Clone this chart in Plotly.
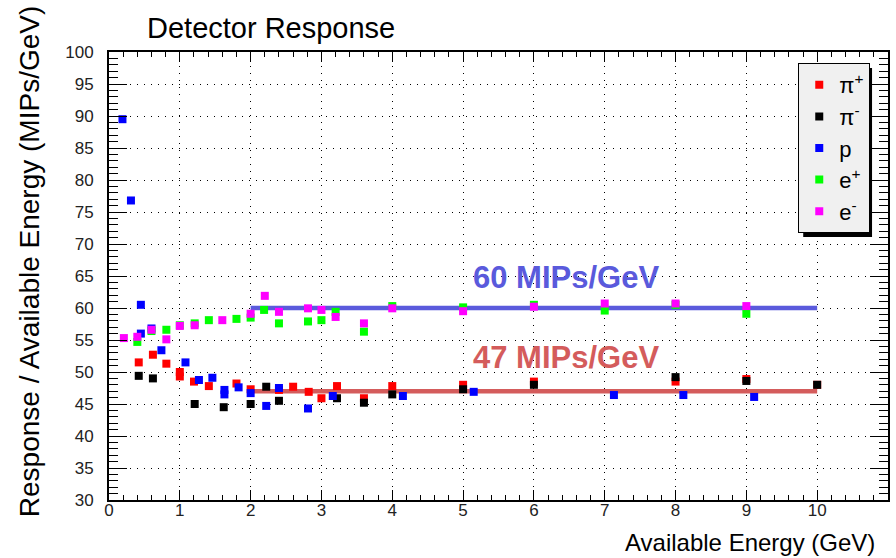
import plotly.graph_objects as go

# ---- data (Available Energy in GeV, Response / Available Energy in MIPs/GeV)
pip_x = [0.42, 0.62, 0.81, 1.0, 1.0, 1.2, 1.41, 1.8, 2.0, 2.4, 2.6, 2.82, 3.0, 3.22, 3.6, 4.0, 5.0, 6.0, 8.0, 9.0, 10.0]
pip_y = [51.5, 52.7, 51.3, 50.0, 49.3, 48.5, 47.8, 48.2, 47.3, 47.2, 47.7, 46.9, 45.9, 47.8, 45.9, 47.8, 48.0, 48.5, 48.5, 48.9, 48.0]

pim_x = [0.42, 0.62, 1.21, 1.62, 2.0, 2.22, 2.4, 3.22, 3.6, 4.0, 5.0, 6.0, 8.0, 9.0, 10.0]
pim_y = [49.4, 49.0, 45.0, 44.5, 45.0, 47.7, 45.5, 45.9, 45.2, 46.5, 47.3, 48.0, 49.2, 48.6, 48.0]

p_x = [0.19, 0.31, 0.45, 0.45, 0.6, 0.74, 1.08, 1.27, 1.46, 1.63, 1.63, 1.83, 2.0, 2.22, 2.4, 2.81, 3.16, 4.15, 5.15, 7.13, 8.11, 9.11]
p_y = [89.5, 76.8, 60.5, 56.0, 56.8, 53.4, 51.5, 48.75, 49.1, 47.2, 46.5, 47.6, 46.7, 44.7, 47.5, 44.3, 46.25, 46.25, 46.9, 46.4, 46.4, 46.1]

ep_x = [0.4, 0.6, 0.81, 1.0, 1.21, 1.41, 1.8, 2.0, 2.19, 2.4, 2.81, 3.0, 3.2, 3.6, 4.0, 5.0, 6.0, 7.0, 8.0, 9.0]
ep_y = [54.7, 56.4, 56.6, 57.3, 57.6, 58.1, 58.3, 58.5, 59.7, 57.6, 57.9, 58.1, 59.4, 56.3, 60.3, 60.1, 60.5, 59.6, 60.5, 59.1]

em_x = [0.21, 0.4, 0.6, 0.81, 1.0, 1.21, 1.6, 2.0, 2.2, 2.4, 2.81, 3.0, 3.2, 3.6, 4.0, 5.0, 6.0, 7.0, 8.0, 9.0]
em_y = [55.3, 55.5, 56.6, 55.1, 57.2, 57.3, 58.1, 59.1, 61.9, 59.4, 59.95, 59.7, 58.6, 57.6, 59.95, 59.5, 60.2, 60.7, 60.7, 60.3]

fit_x = [2, 10]
fit_e = [60, 60]
fit_pi = [47, 47]

series = [
    ("π<sup>+</sup>", pip_x, pip_y, "#ff0000"),
    ("π<sup>-</sup>", pim_x, pim_y, "#000000"),
    ("p", p_x, p_y, "#0000ff"),
    ("e<sup>+</sup>", ep_x, ep_y, "#00ff00"),
    ("e<sup>-</sup>", em_x, em_y, "#ff00ff"),
]

FONT = "Liberation Sans, Arial, sans-serif"

fig = go.Figure()

# fitted constant lines
fig.add_trace(go.Scatter(x=fit_x, y=fit_e, mode="lines", line=dict(color="#5a5adc", width=4.5),
                         showlegend=False, hoverinfo="skip"))
fig.add_trace(go.Scatter(x=fit_x, y=fit_pi, mode="lines", line=dict(color="#d45c5c", width=4.5),
                         showlegend=False, hoverinfo="skip"))

for i, (name, xs, ys, col) in enumerate(series):
    fig.add_trace(go.Scatter(x=xs, y=ys, mode="markers", name=name, legendgroup=str(i),
                             marker=dict(symbol="square", size=8, color=col, line=dict(width=0))))

grid_dash = "1px,6px"
fig.update_xaxes(range=[0, 11], tick0=0, dtick=1, ticks="inside", ticklen=10, tickwidth=1,
                 tickcolor="black", showline=True, linewidth=2, linecolor="black", mirror="ticks",
                 showgrid=True, gridcolor="black", gridwidth=1, griddash=grid_dash, zeroline=False,
                 minor=dict(ticks="inside", ticklen=5, dtick=0.2, tickcolor="black", showgrid=False),
                 tickfont=dict(family=FONT, size=17, color="#222"), ticklabelstandoff=-6)
fig.update_yaxes(range=[30, 100], tick0=30, dtick=5, ticks="inside", ticklen=18, tickwidth=1,
                 tickcolor="black", showline=True, linewidth=2, linecolor="black", mirror="ticks",
                 showgrid=True, gridcolor="black", gridwidth=1, griddash=grid_dash, zeroline=False,
                 minor=dict(ticks="inside", ticklen=9, dtick=1, tickcolor="black", showgrid=False),
                 tickfont=dict(family=FONT, size=17, color="#222"), ticklabelstandoff=10)

annotations = [
    dict(text="Detector Response", xref="paper", yref="paper", x=0.046, y=1.0536,
         xanchor="left", yanchor="middle", showarrow=False, font=dict(family=FONT, size=29, color="black")),
    dict(text="Available Energy (GeV)", xref="paper", yref="paper", x=0.986, y=-0.0940,
         xanchor="right", yanchor="middle", showarrow=False, font=dict(family=FONT, size=24, color="black")),
    dict(text="Response / Available Energy (MIPs/GeV)", xref="paper", yref="paper", x=-0.1011, y=0.5335,
         xanchor="center", yanchor="middle", textangle=-90, showarrow=False,
         font=dict(family=FONT, size=28, color="black")),
    dict(text="<b>60 MIPs/GeV</b>", xref="x", yref="y", x=6.46, y=64.8, xanchor="center", yanchor="middle",
         showarrow=False, font=dict(family=FONT, size=31, color="#5a5adc")),
    dict(text="<b>47 MIPs/GeV</b>", xref="x", yref="y", x=6.46, y=52.3, xanchor="center", yanchor="middle",
         showarrow=False, font=dict(family=FONT, size=31, color="#d45c5c")),
]

fig.update_layout(
    width=896, height=558,
    margin=dict(l=109, r=6, t=52, b=58),
    paper_bgcolor="white", plot_bgcolor="white",
    annotations=annotations,
    legend=dict(x=0.8848, y=0.9754, xanchor="left", yanchor="top", bgcolor="#f0f0f0",
                bordercolor="black", borderwidth=1, tracegroupgap=0, itemwidth=30,
                font=dict(family=FONT, size=22, color="black")),
    shapes=[dict(type="rect", xref="paper", yref="paper", x0=(805 - 109) / 781, x1=(874 - 109) / 781,
                 y0=(500 - 237) / 448, y1=(500 - 68) / 448, fillcolor="black", line=dict(width=0),
                 layer="above")],
)

fig.write_html("out.html")
